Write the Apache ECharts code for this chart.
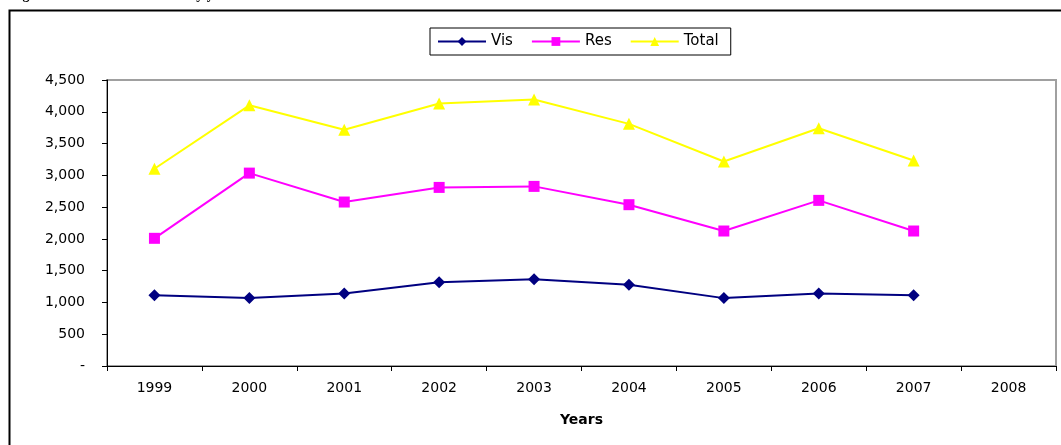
<!DOCTYPE html>
<html>
<head>
<meta charset="utf-8">
<script src="https://cdn.jsdelivr.net/npm/echarts@6/dist/echarts.min.js"></script>
<style>
html,body{margin:0;padding:0;background:#fff;}
#chart{width:1061px;height:445px;}
</style>
</head>
<body>
<div id="chart"></div>
<script>
const years = ['1999','2000','2001','2002','2003','2004','2005','2006','2007','2008'];
const vis   = [1115, 1068, 1141, 1319, 1366, 1277, 1068, 1141, 1115, null];
const res   = [2009, 3035, 2580, 2810, 2826, 2538, 2124, 2606, 2124, null];
const total = [3104, 4102, 3716, 4129, 4192, 3810, 3218, 3741, 3234, null];
const yTicks = [0, 500, 1000, 1500, 2000, 2500, 3000, 3500, 4000, 4500];

const FONT = 'DejaVu Sans';
const chart = echarts.init(document.getElementById('chart'), null, {renderer: 'canvas'});
chart.setOption({
  animation: false,
  backgroundColor: '#fff',
  graphic: [
    {type: 'rect', shape: {x: 9.5, y: 10.5, width: 1100, height: 500},
     style: {fill: 'none', stroke: '#000', lineWidth: 2}, silent: true},
    {type: 'text', left: 10, top: -12,
     style: {text: 'Figure 2: Number of Tourists by year', font: 'bold 14px "Liberation Serif"', fill: '#000'}}
  ],
  legend: {
    left: 430, top: 28,
    padding: [6, 12, 6, 7],
    itemGap: 18,
    itemWidth: 48, itemHeight: 11,
    borderColor: '#000', borderWidth: 1, borderRadius: 0,
    textStyle: {fontFamily: FONT, fontSize: 15, color: '#000', padding: [0, 0, 0, 0]},
    data: ['Vis', 'Res', 'Total']
  },
  grid: {
    left: 107, top: 80, right: 5, bottom: 79,
    show: true, borderColor: '#a0a0a0', borderWidth: 2, backgroundColor: '#fff'
  },
  xAxis: {
    type: 'category', data: years, boundaryGap: true,
    name: 'Years', nameLocation: 'middle', nameGap: 47,
    nameTextStyle: {fontFamily: FONT, fontSize: 14, fontWeight: 'bold', color: '#000'},
    axisLine: {lineStyle: {color: '#000', width: 1}},
    axisTick: {show: true, inside: false, length: 5, lineStyle: {color: '#000'}},
    axisLabel: {fontFamily: FONT, fontSize: 14, color: '#000', margin: 15}
  },
  yAxis: {
    type: 'value', min: 0, max: 4500, interval: 500,
    splitLine: {show: false},
    axisLine: {show: true, lineStyle: {color: '#000', width: 1}},
    axisTick: {show: true, inside: false, length: 5, lineStyle: {color: '#000'}},
    axisLabel: {
      fontFamily: FONT, fontSize: 14, color: '#000', margin: 22,
      formatter: v => yTicks.includes(v) ? (v === 0 ? '-' : v.toLocaleString('en-US')) : ''
    }
  },
  series: [
    {name: 'Vis', type: 'line', data: vis, symbol: 'diamond', symbolSize: 12,
     itemStyle: {color: '#000080'}, lineStyle: {color: '#000080', width: 2}},
    {name: 'Res', type: 'line', data: res, symbol: 'rect', symbolSize: 11,
     itemStyle: {color: '#ff00ff'}, lineStyle: {color: '#ff00ff', width: 2}},
    {name: 'Total', type: 'line', data: total, symbol: 'triangle', symbolSize: 12,
     itemStyle: {color: '#ffff00'}, lineStyle: {color: '#ffff00', width: 2}}
  ]
});
</script>
</body>
</html>
